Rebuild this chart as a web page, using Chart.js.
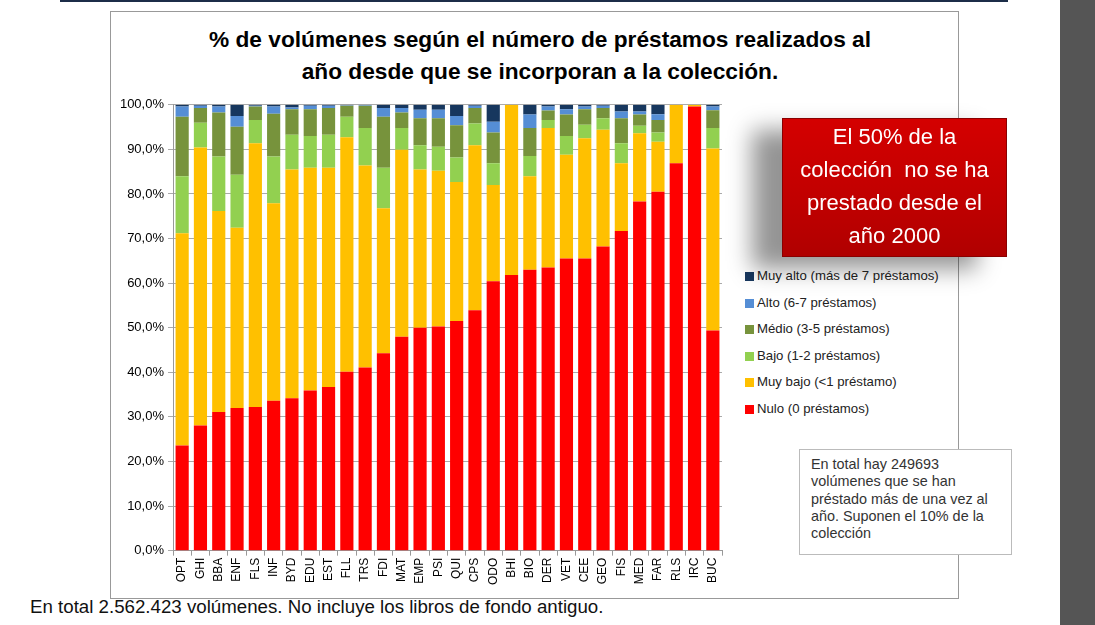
<!DOCTYPE html>
<html>
<head>
<meta charset="utf-8">
<script src="https://cdn.jsdelivr.net/npm/chart.js@4/dist/chart.umd.min.js"></script>
<style>
  body { margin: 0; width: 1095px; height: 625px; background: #fff; position: relative; overflow: hidden; font-family: "Liberation Sans", Arial, sans-serif; }
  #topline { position: absolute; left: 60px; top: 0; width: 948px; height: 2px; background: #1c2d48; }
  #band { position: absolute; left: 1060px; top: 0; width: 35px; height: 625px; background: #555; }
  #frame { position: absolute; left: 110px; top: 11px; width: 847px; height: 586px; border: 1px solid #999; }
  #title { position: absolute; left: 110px; top: 23px; width: 860px; text-align: center; font-weight: bold; font-size: 22.7px; line-height: 32px; color: #000; }
  #wrap { position: absolute; left: 100px; top: 93px; width: 630px; height: 494px; }
  #legend { position: absolute; left: 745px; top: 268px; font-size: 13.2px; color: #222; }
  #legend div { height: 26.6px; line-height: 16px; white-space: nowrap; }
  #legend span { display: inline-block; width: 9px; height: 9px; margin-right: 3px; vertical-align: -1px; }
  #callout { position: absolute; left: 782px; top: 118px; width: 223px; height: 136px; border: 1px solid #8a0000;
    background: linear-gradient(#d40000, #c00000 60%, #b00000); color: #fff; text-align: center;
    font-size: 22px; line-height: 33px; padding-top: 1px; box-shadow: -30px 12px 22px rgba(0,0,0,0.42); }
  #note { position: absolute; left: 799px; top: 449px; width: 194px; height: 92px; border: 1px solid #bbb; background: #fff;
    font-size: 14.4px; line-height: 17.3px; color: #333; padding: 6px 6px 6px 11px; white-space: nowrap; }
  #foot { position: absolute; left: 30px; top: 596px; font-size: 18.7px; color: #111; }
</style>
</head>
<body>
<div id="topline"></div>
<div id="band"></div>
<div id="frame"></div>
<div id="title">% de volúmenes según el número de préstamos realizados al<br>año desde que se incorporan a la colección.</div>
<div id="wrap"><canvas id="c" width="630" height="494"></canvas></div>
<div id="legend"></div>
<div id="callout">El 50% de la<br>colección&nbsp; no se ha<br>prestado desde el<br>año 2000</div>
<div id="note">En total hay 249693<br>volúmenes que se han<br>préstado más de una vez al<br>año. Suponen el 10% de la<br>colección</div>
<div id="foot">En total 2.562.423 volúmenes. No incluye los libros de fondo antiguo.</div>
<script>
const categories = ["OPT","GHI","BBA","ENF","FLS","INF","BYD","EDU","EST","FLL","TRS","FDI","MAT","EMP","PSI",
  "QUI","CPS","ODO","BHI","BIO","DER","VET","CEE","GEO","FIS","MED","FAR","RLS","IRC","BUC"];

const nulo    = [23.6,28.1,31.1,32.0,32.2,33.6,34.2,35.9,36.7,40.1,41.1,44.3,48.0,50.0,50.3,
                 51.5,53.9,60.4,61.8,63.0,63.5,65.5,65.5,68.2,71.7,78.3,80.5,86.9,99.6,49.4];
const muyBajo = [47.6,62.3,45.1,40.4,59.2,44.3,51.3,50.0,49.2,52.6,45.3,32.5,41.9,35.5,34.9,
                 31.2,37.0,21.6,38.2,21.0,31.3,23.3,27.0,26.2,15.2,15.3,11.2,13.1,0.4,40.8];
const bajo    = [12.8,5.6,12.2,11.9,5.2,10.5,7.8,7.1,7.4,4.6,8.4,9.1,4.9,5.4,5.4,
                 5.5,4.9,4.9,0,4.5,1.8,4.2,3.0,2.6,4.5,1.7,2.1,0,0,4.6];
const medio   = [13.3,3.3,9.9,10.8,3.0,9.6,5.7,6.0,6.0,2.5,5.0,11.4,3.5,6.1,6.4,
                 7.2,3.5,6.9,0,6.3,2.1,4.8,3.5,2.3,5.6,2.5,2.8,0,0,4.0];
const alto    = [2.3,0.5,1.3,2.4,0.2,1.6,0.4,0.8,0.5,0.1,0.2,2.0,1.0,1.9,1.9,
                 2.1,0.5,2.4,0,3.0,0.9,1.2,0.6,0.5,1.5,0.7,1.3,0,0,0.8];
const muyAlto = [0.4,0.2,0.4,2.5,0.2,0.4,0.6,0.2,0.2,0.1,0.0,0.7,0.7,1.1,1.1,
                 2.5,0.2,3.8,0,2.2,0.4,1.0,0.4,0.2,1.5,1.5,2.1,0,0,0.4];

const yTickLabels = ["0,0%","10,0%","20,0%","30,0%","40,0%","50,0%","60,0%","70,0%","80,0%","90,0%","100,0%"];

const series = [
  { label: "Nulo (0 préstamos)", data: nulo, color: "#ff0000" },
  { label: "Muy bajo (<1 préstamo)", data: muyBajo, color: "#ffc000" },
  { label: "Bajo (1-2 préstamos)", data: bajo, color: "#92d050" },
  { label: "Médio (3-5 préstamos)", data: medio, color: "#77933c" },
  { label: "Alto (6-7 préstamos)", data: alto, color: "#558ed5" },
  { label: "Muy alto (más de 7 préstamos)", data: muyAlto, color: "#17375e" }
];

// leyenda a mano, de arriba (Muy alto) a abajo (Nulo)
let leg = document.getElementById("legend");
series.slice().reverse().forEach(s => {
  let d = document.createElement("div");
  d.innerHTML = `<span style="background:${s.color}"></span>${s.label.replace(/</g, "&lt;")}`;
  leg.appendChild(d);
});

new Chart(document.getElementById("c"), {
  type: "bar",
  data: {
    labels: categories,
    datasets: series.map(s => ({
      label: s.label,
      data: s.data,
      backgroundColor: s.color,
      borderWidth: 0,
      barPercentage: 0.72,
      categoryPercentage: 1
    }))
  },
  options: {
    responsive: false,
    animation: false,
    devicePixelRatio: 1,
    layout: { padding: { top: 8, right: 8 } },
    plugins: { legend: { display: false }, tooltip: { enabled: false } },
    scales: {
      x: {
        stacked: true,
        grid: { drawOnChartArea: false, tickLength: 5, color: "#999" },
        border: { color: "#999" },
        ticks: { autoSkip: false, minRotation: 90, maxRotation: 90, padding: 2, color: "#000",
                 font: { family: "Liberation Sans", size: 12 } }
      },
      y: {
        stacked: true,
        min: 0,
        max: 100,
        afterFit: s => { s.width = 73; },
        grid: { color: "#aaa", tickLength: 5 },
        border: { color: "#999" },
        ticks: { stepSize: 10, padding: 4, color: "#000", font: { family: "Liberation Sans", size: 13 },
                 callback: (v, i) => yTickLabels[i] }
      }
    }
  }
});
</script>
</body>
</html>
